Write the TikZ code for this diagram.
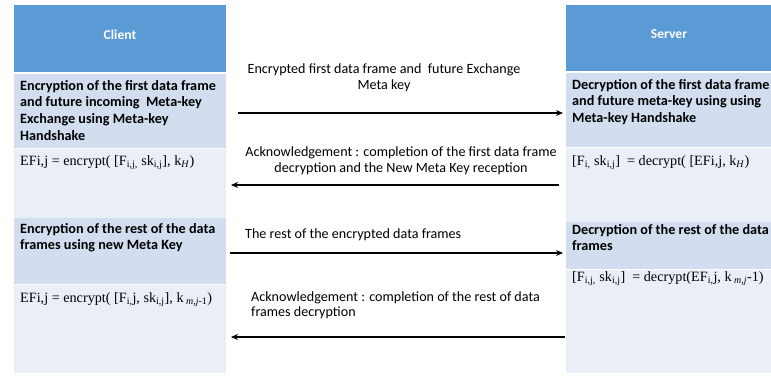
\documentclass[tikz,border=0pt]{standalone}
\usepackage{fontspec}
\setmainfont{Carlito}
\newfontfamily\eqfont{Liberation Serif}
\usetikzlibrary{arrows.meta}
\definecolor{hdrblue}{HTML}{5B9BD5}
\definecolor{bandmid}{HTML}{D2DEEF}
\definecolor{bandlight}{HTML}{EAEFF7}
\begin{document}
\begin{tikzpicture}[x=1pt,y=-1pt,
  hdr/.style={fill=hdrblue, draw=none, anchor=north west, inner sep=0},
  hdrtext/.style={inner sep=0, text=white, font=\fontsize{13.6}{16}\selectfont\bfseries},
  bandm/.style={fill=bandmid, draw=none, anchor=north west, inner sep=0},
  bandl/.style={fill=bandlight, draw=none, anchor=north west, inner sep=0},
  boxtext/.style={anchor=north west, inner sep=0, align=left, font=\fontsize{14.2}{16.7}\selectfont\bfseries},
  eqtext/.style={anchor=west, inner sep=0, font=\eqfont\fontsize{14.2}{16}\selectfont},
  lbl/.style={inner sep=0, font=\fontsize{14.1}{15.5}\selectfont},
  msg/.style={line width=1.4pt, -{Stealth[length=7pt,width=6pt]}}]
\useasboundingbox[fill=white] (0,0) rectangle (771,377);
% client column
\node[hdr, minimum width=212pt, minimum height=67pt] (ch) at (14,5) {};
\node[hdrtext] (cht) at (120,34.5) {Client};
\node[bandm, minimum width=212pt, minimum height=74pt] (cb1) at (14,74) {};
\node[bandl, minimum width=212pt, minimum height=69pt] (cb2) at (14,149) {};
\node[bandm, minimum width=212pt, minimum height=66pt] (cb3) at (14,218) {};
\node[bandl, minimum width=212pt, minimum height=88pt] (cb4) at (14,285) {};
% server column
\node[hdr, minimum width=205pt, minimum height=66pt] (sh) at (566,5) {};
\node[hdrtext] (sht) at (669,34.5) {Server};
\node[bandm, minimum width=205pt, minimum height=74pt] (sb1) at (566,73) {};
\node[bandl, minimum width=205pt, minimum height=74pt] (sb2) at (566,148) {};
\node[bandm, minimum width=205pt, minimum height=47pt] (sb3) at (566,222) {};
\node[bandl, minimum width=205pt, minimum height=103pt] (sb4) at (566,270) {};
% client texts
\node[boxtext] (ct1) at (20,80) {Encryption of the first data frame\\and future incoming\ \ Meta-key\\Exchange using Meta-key\\Handshake};
\node[eqtext] (ce1) at (20,163) {EFi,j = encrypt( [F\textsubscript{i,j,} sk\textsubscript{i,j}], k\textsubscript{\textit{H}})};
\node[boxtext] (ct2) at (20,223) {Encryption of the rest of the data\\frames using new Meta Key};
\node[eqtext] (ce2) at (20,300) {EFi,j = encrypt( [F\textsubscript{i,}j, sk\textsubscript{i,j}], k\textsubscript{~\textit{m,j}-1})};
% server texts
\node[boxtext] (st1) at (572,79) {Decryption of the first data frame\\and future meta-key using using\\Meta-key Handshake};
\node[eqtext] (se1) at (572,163) {[F\textsubscript{i,} sk\textsubscript{i,j}]\ \ = decrypt( [EFi,j, k\textsubscript{\textit{H}})};
\node[boxtext] (st2) at (572,224) {Decryption of the rest of the data\\frames};
\node[eqtext] (se2) at (572,279) {[F\textsubscript{i,j,} sk\textsubscript{i,j}]\ \ = decrypt(EF\textsubscript{i,}j, k\textsubscript{~\textit{m,j}}-1)};
% arrows
\coordinate (a1s) at (238,113); \coordinate (a1e) at (563,113);
\coordinate (a2s) at (559,185); \coordinate (a2e) at (231,185);
\coordinate (a3s) at (230,253); \coordinate (a3e) at (563,253);
\coordinate (a4s) at (565,337); \coordinate (a4e) at (231,337);
\draw[msg] (a1s) -- (a1e);
\draw[msg] (a2s) -- (a2e);
\draw[msg] (a3s) -- (a3e);
\draw[msg] (a4s) -- (a4e);
% labels
\node[lbl, align=center] (l1) at (384,77.5) {Encrypted first data frame and\ \ future Exchange\\Meta key};
\node[lbl, align=center] (l2) at (401,160.5) {Acknowledgement : completion of the first data frame\\decryption and the New Meta Key reception};
\node[lbl, anchor=west] (l3) at (245,235) {The rest of the encrypted data frames};
\node[lbl, align=left, anchor=west] (l4) at (251,305) {Acknowledgement : completion of the rest of data\\frames decryption};
\end{tikzpicture}
\end{document}
